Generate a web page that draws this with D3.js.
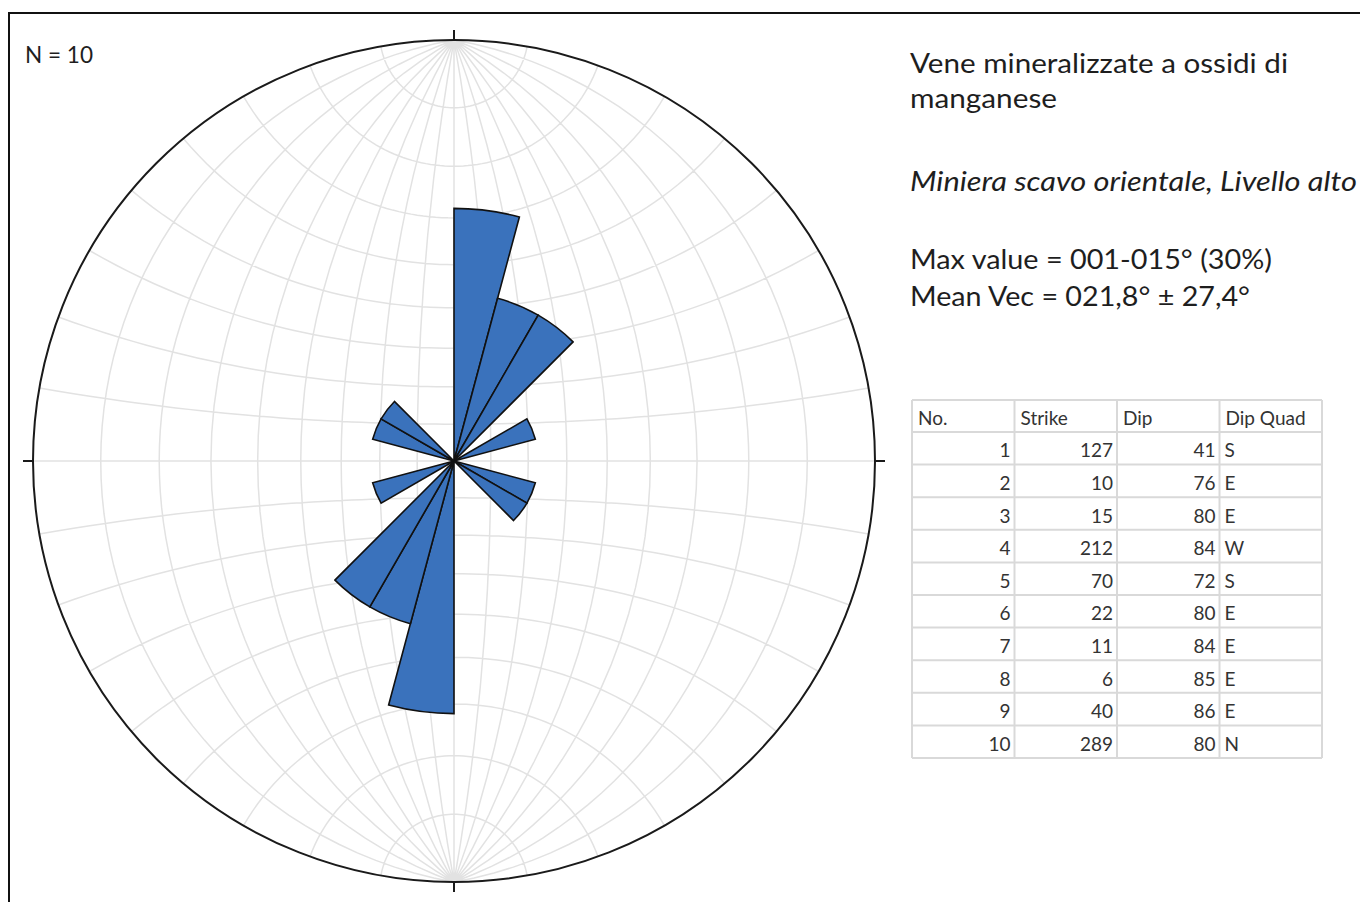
<!DOCTYPE html>
<html>
<head>
<meta charset="utf-8">
<script src="https://cdn.jsdelivr.net/npm/d3@7"></script>
<style>
  body { margin: 0; background: #fff; }
  svg { display: block; }
</style>
</head>
<body>
<svg></svg>
<script>
;(() => {

    // measurements (table at the right)
    const measureNo = [1, 2, 3, 4, 5, 6, 7, 8, 9, 10];
    const strikes = [127, 10, 15, 212, 70, 22, 11, 6, 40, 289];
    const dips = [41, 76, 80, 84, 72, 80, 84, 85, 86, 80];
    const dipQuads = ['S', 'E', 'E', 'W', 'S', 'E', 'E', 'E', 'E', 'N'];
    const tableHeaders = ['No.', 'Strike', 'Dip', 'Dip Quad'];

    // rose diagram: 15° bins over 0-180, mirrored to 180-360 (percent of N)
    const binStarts = [0, 15, 30, 45, 60, 75, 90, 105, 120, 135, 150, 165];
    const binPercent = [30, 20, 20, 0, 10, 0, 0, 10, 10, 0, 0, 0];
    const roseMaxPercent = 50;

    const sampleLabel = 'N = 10';
    const titleLines = ['Vene mineralizzate a ossidi di', 'manganese'];
    const subtitle = 'Miniera scavo orientale, Livello alto';
    const statLines = ['Max value = 001-015° (30%)', 'Mean Vec = 021,8° ± 27,4°'];

    const width = 1360;
    const height = 902;
    const cx = 454, cy = 461, R = 421;
    const font = 'Lato, "Open Sans", sans-serif';
    const textColor = '#1e1e1e';

    const svg = d3.select('svg')
        .attr('width', width)
        .attr('height', height);

    // frame (top and left edges visible)
    svg.append('path')
        .attr('d', `M9,${height} L9,13 L${width},13`)
        .attr('fill', 'none')
        .attr('stroke', '#111')
        .attr('stroke-width', 2);

    // Wulff net: equal-angle stereographic projection, 10° graticule
    const projection = d3.geoStereographic()
        .scale(R)
        .translate([cx, cy])
        .clipAngle(90)
        .precision(0.2);
    const geoPath = d3.geoPath(projection);
    const graticule = d3.geoGraticule()
        .extent([[-180, -90], [180, 90]])
        .step([10, 10]);

    svg.append('path')
        .datum(graticule())
        .attr('d', geoPath)
        .attr('fill', 'none')
        .attr('stroke', '#e2e2e2')
        .attr('stroke-width', 1.5);

    // primitive circle
    svg.append('circle')
        .attr('cx', cx)
        .attr('cy', cy)
        .attr('r', R)
        .attr('fill', 'none')
        .attr('stroke', '#1a1a1a')
        .attr('stroke-width', 2);

    // N E S W ticks
    svg.append('g')
        .selectAll('line')
        .data([0, 90, 180, 270])
        .enter()
        .append('line')
        .attr('x1', (a) => cx + Math.sin(a * Math.PI / 180) * R)
        .attr('y1', (a) => cy - Math.cos(a * Math.PI / 180) * R)
        .attr('x2', (a) => cx + Math.sin(a * Math.PI / 180) * (R + 10))
        .attr('y2', (a) => cy - Math.cos(a * Math.PI / 180) * (R + 10))
        .attr('stroke', '#1a1a1a')
        .attr('stroke-width', 2);

    // rose petals (bidirectional)
    const rScale = d3.scaleLinear().domain([0, roseMaxPercent]).range([0, R]);
    const petals = [];
    binStarts.forEach((start, i) => {
        if (binPercent[i] > 0) {
            petals.push({ start: start, end: start + 15, value: binPercent[i] });
            petals.push({ start: start + 180, end: start + 195, value: binPercent[i] });
        }
    });
    const arc = d3.arc()
        .innerRadius(0)
        .outerRadius((d) => rScale(d.value))
        .startAngle((d) => d.start * Math.PI / 180)
        .endAngle((d) => d.end * Math.PI / 180);

    svg.append('g')
        .attr('transform', `translate(${cx},${cy})`)
        .selectAll('path')
        .data(petals)
        .enter()
        .append('path')
        .attr('d', arc)
        .attr('fill', '#3a72bc')
        .attr('stroke', '#111')
        .attr('stroke-width', 1.6)
        .attr('stroke-linejoin', 'miter');

    // N = 10
    svg.append('text')
        .attr('x', 25)
        .attr('y', 63)
        .attr('font-family', font)
        .attr('font-size', 23)
        .attr('fill', textColor)
        .attr('textLength', 68)
        .attr('lengthAdjust', 'spacingAndGlyphs')
        .text(sampleLabel);

    // title and stats block
    const textBlock = [
        { text: titleLines[0], y: 73, w: 378, italic: false },
        { text: titleLines[1], y: 108, w: 147, italic: false },
        { text: subtitle, y: 191, w: 447, italic: true },
        { text: statLines[0], y: 269, w: 362, italic: false },
        { text: statLines[1], y: 306, w: 340, italic: false }
    ];
    svg.append('g')
        .selectAll('text')
        .data(textBlock)
        .enter()
        .append('text')
        .attr('x', 910)
        .attr('y', (d) => d.y)
        .attr('font-family', font)
        .attr('font-size', 27)
        .attr('font-style', (d) => d.italic ? 'italic' : 'normal')
        .attr('fill', textColor)
        .attr('textLength', (d) => d.w)
        .attr('lengthAdjust', 'spacingAndGlyphs')
        .text((d) => d.text);

    // data table
    const colX = [912, 1014.5, 1117, 1219.5, 1322];
    const tableTop = 400;
    const headerH = 32;
    const rowH = 32.6;
    const rowY = (i) => tableTop + headerH + i * rowH;
    const tableBottom = rowY(measureNo.length);
    const table = svg.append('g');

    table.selectAll('line.h')
        .data(d3.range(measureNo.length + 1).map(rowY).concat([tableTop]))
        .enter()
        .append('line')
        .attr('x1', colX[0])
        .attr('x2', colX[4])
        .attr('y1', (y) => y)
        .attr('y2', (y) => y)
        .attr('stroke', '#d9d9d9')
        .attr('stroke-width', 2);

    table.selectAll('line.v')
        .data(colX)
        .enter()
        .append('line')
        .attr('x1', (x) => x)
        .attr('x2', (x) => x)
        .attr('y1', tableTop)
        .attr('y2', tableBottom)
        .attr('stroke', '#d9d9d9')
        .attr('stroke-width', 2);

    table.selectAll('text.head')
        .data(tableHeaders)
        .enter()
        .append('text')
        .attr('x', (d, i) => colX[i] + 6)
        .attr('y', tableTop + headerH / 2 + 9)
        .attr('font-family', font)
        .attr('font-size', 19)
        .attr('fill', '#333')
        .text((d) => d);

    const rows = measureNo.map((n, i) => [n, strikes[i], dips[i], dipQuads[i]]);
    rows.forEach((row, i) => {
        const baseY = rowY(i) + rowH / 2 + 9;
        row.forEach((cell, j) => {
            const isLeft = j === 3;
            table.append('text')
                .attr('x', isLeft ? colX[j] + 5 : colX[j + 1] - 4)
                .attr('y', baseY)
                .attr('text-anchor', isLeft ? 'start' : 'end')
                .attr('font-family', font)
                .attr('font-size', 19)
                .attr('fill', '#333')
                .text(cell);
        });
    });

})();
</script>
</body>
</html>
